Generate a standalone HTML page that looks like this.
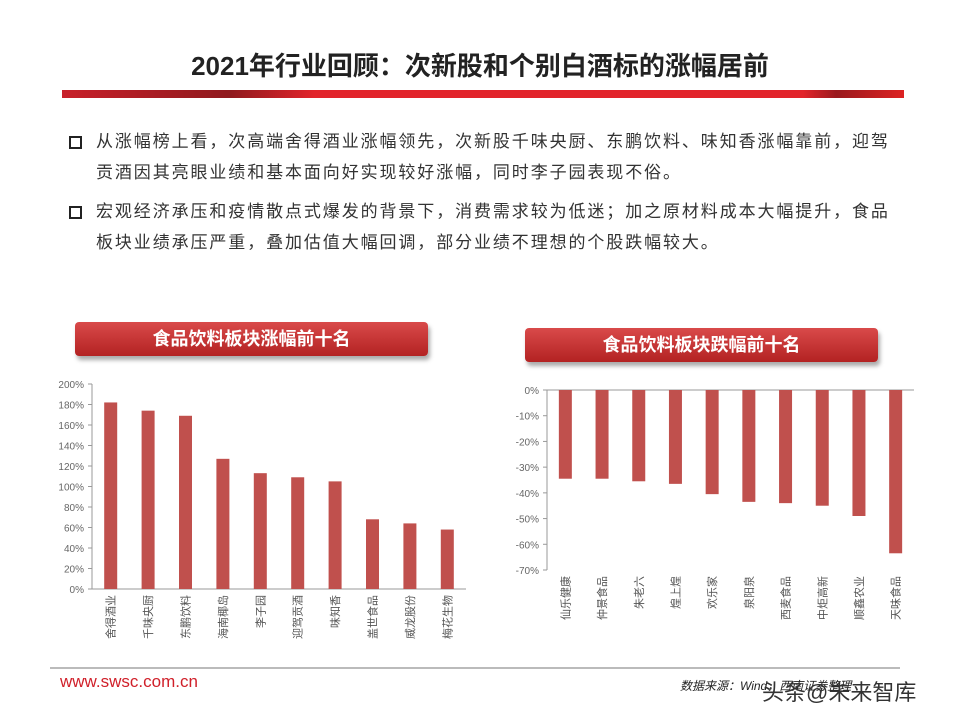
<!DOCTYPE html>
<html><head><meta charset="utf-8"><style>
body{margin:0;width:960px;height:720px;background:#fff;position:relative;overflow:hidden;font-family:"Liberation Sans","Noto Sans CJK SC",sans-serif}
.abs{position:absolute}
.title{left:0;width:960px;top:46px;text-align:center;font-size:26px;font-weight:bold;color:#222}
.bar{left:62px;top:90px;width:842px;height:8px;background:linear-gradient(90deg,#c8202a 0,#8f1a1e 20%,#e2242b 30%,#e2242b 88%,#9a1a1e 92%,#d22 100%)}
.p{left:96px;width:820px;font-size:17px;letter-spacing:1.9px;color:#333;line-height:31px}
.sq{position:absolute;left:-27px;top:10px;width:9px;height:9px;border:2px solid #222}
.hdr{height:34px;background:linear-gradient(#d94a4a,#b32222);border-radius:4px;box-shadow:2px 4px 4px #aaa;color:#fff;font-size:18px;font-weight:bold;text-align:center;line-height:34px}
</style></head><body>
<div class="abs title">2021年行业回顾：次新股和个别白酒标的涨幅居前</div>
<div class="abs bar"></div>
<div class="abs p" style="top:126px"><span class="sq"></span>从涨幅榜上看，次高端舍得酒业涨幅领先，次新股千味央厨、东鹏饮料、味知香涨幅靠前，迎驾<br>贡酒因其亮眼业绩和基本面向好实现较好涨幅，同时李子园表现不俗。</div>
<div class="abs p" style="top:196px"><span class="sq"></span>宏观经济承压和疫情散点式爆发的背景下，消费需求较为低迷；加之原材料成本大幅提升，食品<br>板块业绩承压严重，叠加估值大幅回调，部分业绩不理想的个股跌幅较大。</div>
<div class="abs hdr" style="left:75px;top:322px;width:353px">食品饮料板块涨幅前十名</div>
<div class="abs hdr" style="left:525px;top:328px;width:353px">食品饮料板块跌幅前十名</div>
<svg class="abs" style="left:0;top:0" width="960" height="720" id="svg"></svg>
<div class="abs" style="left:50px;top:667px;width:850px;height:2px;background:#bbb"></div>
<div class="abs" style="left:60px;top:672px;font-size:17px;color:#d0202a">www.swsc.com.cn</div>
<div class="abs" style="left:680px;top:677px;font-size:12px;font-style:italic;color:#222">数据来源：Wind，西南证券整理</div>
<div class="abs" style="left:762px;top:675px;font-size:22px;color:#333">头条@未来智库</div>
<script>
const upCats=["舍得酒业","千味央厨","东鹏饮料","海南椰岛","李子园","迎驾贡酒","味知香","盖世食品","威龙股份","梅花生物"];
const upVals=[182,174,169,127,113,109,105,68,64,58];
const upTicks=[0,20,40,60,80,100,120,140,160,180,200];
const dnCats=["仙乐健康","仲景食品","朱老六","煌上煌","欢乐家","泉阳泉","西麦食品","中炬高新","顺鑫农业","天味食品"];
const dnVals=[-34.5,-34.5,-35.5,-36.5,-40.5,-43.5,-44,-45,-49,-63.5];
const dnTicks=[0,-10,-20,-30,-40,-50,-60,-70];
const svg=document.getElementById('svg');const NS="http://www.w3.org/2000/svg";
function mk(t,a,p){const e=document.createElementNS(NS,t);for(const k in a)e.setAttribute(k,a[k]);(p||svg).appendChild(e);return e;}
function chart(cats,vals,ticks,x0,x1,yTop,yBot,vMax,vMin,nm){
  const y=v=>yTop+(vMax-v)/(vMax-vMin)*(yBot-yTop);
  const step=(x1-x0)/cats.length;const base=y(Math.max(vMin,Math.min(0,vMax)));
  const ax=mk('line',{x1:x0,y1:yTop,x2:x0,y2:yBot,stroke:'#999'});
  
  const bx=mk('line',{x1:x0,y1:base,x2:x1,y2:base,stroke:'#999'});
  
  ticks.forEach(t=>{const ty=y(t);mk('line',{x1:x0-4,y1:ty,x2:x0,y2:ty,stroke:'#999'});
    const tx=mk('text',{x:x0-8,y:ty+4,'text-anchor':'end','font-size':10,fill:'#666'});tx.textContent=t+'%';
    });
  cats.forEach((c,i)=>{const cx=x0+step*(i+0.5);const v=vals[i];
    const r=mk('rect',{x:cx-6.5,y:Math.min(y(v),base),width:13,height:Math.abs(y(v)-base),fill:'#c0504d'});
    
    const t=mk('text',{x:0,y:0,'font-size':11,fill:'#555','text-anchor':'end',transform:`translate(${cx+4},${yBot+6}) rotate(-90)`});
    t.textContent=c;});
}
chart(upCats,upVals,upTicks,92,466,384,589,200,0,'gainers');
chart(dnCats,dnVals,dnTicks,547,914,390,570,0,-70,'losers');
</script>
</body></html>
